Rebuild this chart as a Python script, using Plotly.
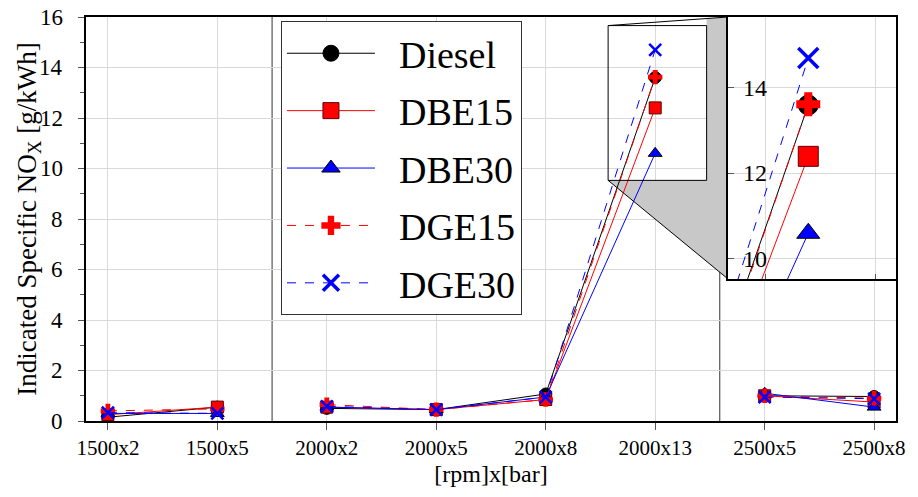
import plotly.graph_objects as go

# ---------------- data ----------------
categories = ["1500x2", "1500x5", "2000x2", "2000x5", "2000x8", "2000x13", "2500x5", "2500x8"]
groups = [[0, 1], [2, 3, 4, 5], [6, 7]]

diesel = [0.15, 0.55, 0.50, 0.45, 1.07, 13.60, 1.00, 0.97]
dbe15 = [0.25, 0.55, 0.55, 0.45, 0.85, 12.40, 1.00, 0.75]
dbe30 = [0.30, 0.30, 0.55, 0.45, 0.95, 10.60, 1.10, 0.55]
dge15 = [0.40, 0.48, 0.65, 0.45, 0.85, 13.62, 1.00, 0.90]
dge30 = [0.33, 0.30, 0.58, 0.45, 0.95, 14.70, 0.95, 0.88]

y_ticks = [0, 2, 4, 6, 8, 10, 12, 14, 16]
inset_y_ticks = [10, 12, 14]

# ---------------- layout constants ----------------
W, H = 918, 497
ML, MR, MT, MB = 86, 22, 17, 76
x_range = [-0.2, 7.2]
y_range = [0, 16]
inset_x_range = [4.57, 5.47]
inset_y_range = [9.53, 15.66]
inset_dom_x = [0.7926, 1.0]
inset_dom_y = [0.3515, 1.0]
separators = [1.5, 5.59]
FONT = "Liberation Serif"
NBSP = "\u00a0"


def segmented(values):
    xs, ys = [], []
    for k, g in enumerate(groups):
        if k:
            xs.append(None)
            ys.append(None)
        for i in g:
            xs.append(i)
            ys.append(values[i])
    return xs, ys


series = [
    ("Diesel", diesel, "black", "solid",
     dict(symbol="circle", color="black", line=dict(color="black", width=1))),
    ("DBE15", dbe15, "red", "solid",
     dict(symbol="square", color="red", line=dict(color="#600000", width=1))),
    ("DBE30", dbe30, "blue", "solid",
     dict(symbol="triangle-up", color="blue", line=dict(color="black", width=1))),
    ("DGE15", dge15, "red", "dash",
     dict(symbol="cross", color="red", line=dict(color="red", width=0))),
    ("DGE30", dge30, "blue", "dash",
     dict(symbol="x-thin", color="blue", line=dict(color="blue", width=2.5))),
]

fig = go.Figure()

for name, vals, col, dash, mk in series:
    xs, ys = segmented(vals)
    m = dict(mk)
    m["size"] = 12
    fig.add_trace(go.Scatter(
        x=xs, y=ys, mode="lines+markers", name=name, showlegend=False,
        line=dict(color=col, width=1, dash=dash), marker=m,
        xaxis="x", yaxis="y", connectgaps=False))

for name, vals, col, dash, mk in series:
    xs, ys = segmented(vals)
    m = dict(mk)
    m["size"] = 20
    if mk["symbol"] == "x-thin":
        m["line"] = dict(color="blue", width=3.5)
    fig.add_trace(go.Scatter(
        x=xs, y=ys, mode="lines+markers", name=NBSP * 2 + name, showlegend=True,
        legendgroup=name,
        line=dict(color=col, width=1, dash=dash), marker=m,
        xaxis="x2", yaxis="y2", connectgaps=False, cliponaxis=True))

# ---------------- zoom indicator shapes ----------------
def to_main_x(p):
    return x_range[0] + p * (x_range[1] - x_range[0])


def to_main_y(p):
    return y_range[0] + p * (y_range[1] - y_range[0])


x0, x1 = inset_x_range
y0, y1 = inset_y_range
bx = to_main_x(inset_dom_x[0])
by_top = to_main_y(inset_dom_y[1])
by_bot = to_main_y(inset_dom_y[0])
t = (x1 - x0) / (bx - x0)
ya = y1 + t * (by_top - y1)

shapes = []
shapes.append(dict(
    type="path", xref="x", yref="y", layer="between",
    path=f"M{x1},{ya} L{bx},{by_top} L{bx},{by_bot} L{x0},{y0} L{x1},{y0} Z",
    fillcolor="#c8c8c8", line=dict(width=0)))
shapes.append(dict(type="line", xref="x", yref="y", x0=x0, y0=y1, x1=bx, y1=by_top,
                   line=dict(color="black", width=1), layer="above"))
shapes.append(dict(type="line", xref="x", yref="y", x0=x0, y0=y0, x1=bx, y1=by_bot,
                   line=dict(color="black", width=1), layer="above"))
shapes.append(dict(type="rect", xref="x", yref="y", x0=x0, y0=y0, x1=x1, y1=y1,
                   line=dict(color="black", width=1), layer="above"))
for s in separators:
    shapes.append(dict(type="line", xref="x", yref="paper", x0=s, x1=s, y0=0, y1=1,
                       line=dict(color="#333333", width=1), layer="between"))

# y tick labels (placed a little away from the axis, as in the reference)
annotations = []
for v in y_ticks:
    annotations.append(dict(
        text=str(v), xref="paper", x=0, xanchor="right", xshift=-21,
        yref="y", y=v, yanchor="middle", showarrow=False,
        font=dict(family=FONT, size=23, color="black")))
for v in inset_y_ticks:
    annotations.append(dict(
        text=str(v), xref="x2 domain", x=0, xanchor="left", xshift=13,
        yref="y2", y=v, yanchor="middle", showarrow=False,
        font=dict(family=FONT, size=24, color="black")))

grid_col = "#d9d9d9"

fig.update_layout(
    width=W, height=H,
    margin=dict(l=ML, r=MR, t=MT, b=MB, pad=0),
    paper_bgcolor="white", plot_bgcolor="white",
    font=dict(family=FONT, size=21, color="black"),
    showlegend=True,
    legend=dict(
        x=0.2407, y=0.99, xanchor="left", yanchor="top",
        bgcolor="white", bordercolor="#333333", borderwidth=1,
        font=dict(family=FONT, size=38, color="black"),
        itemwidth=88, tracegroupgap=5, itemsizing="trace",
        traceorder="grouped"),
    shapes=shapes,
    annotations=annotations,
    xaxis=dict(
        range=x_range, tickmode="array", tickvals=list(range(len(categories))),
        ticktext=categories, ticks="outside", ticklen=7, tickcolor="#555555",
        tickfont=dict(family=FONT, size=21),
        showgrid=True, gridcolor=grid_col, gridwidth=1,
        showline=True, linecolor="black", linewidth=1.5, mirror=True,
        zeroline=False,
        title=dict(text="[rpm]x[bar]", font=dict(family=FONT, size=24), standoff=6),
    ),
    yaxis=dict(
        range=y_range, tickmode="array", tickvals=y_ticks, showticklabels=False,
        ticks="outside", ticklen=6, tickcolor="#555555",
        minor=dict(dtick=1, ticks="outside", ticklen=4, tickcolor="#555555", showgrid=False),
        showgrid=True, gridcolor=grid_col, gridwidth=1,
        showline=True, linecolor="black", linewidth=1.5, mirror=True,
        zeroline=False,
        title=dict(text="Indicated Specific NO<sub>X</sub> [g/kWh]",
                   font=dict(family=FONT, size=27), standoff=34),
    ),
    xaxis2=dict(
        domain=inset_dom_x, anchor="y2", range=inset_x_range,
        tickmode="array", tickvals=[4.77, 5.36], showticklabels=False,
        ticks="inside", ticklen=5, tickcolor="#555555",
        showgrid=True, gridcolor=grid_col,
        showline=True, linecolor="black", linewidth=1.5, mirror=True, zeroline=False,
    ),
    yaxis2=dict(
        domain=inset_dom_y, anchor="x2", range=inset_y_range,
        tickmode="array", tickvals=inset_y_ticks, showticklabels=False,
        ticks="inside", ticklen=6, tickcolor="#555555",
        showgrid=True, gridcolor=grid_col,
        showline=True, linecolor="black", linewidth=1.5, mirror=True, zeroline=False,
    ),
)

fig.write_html("out.html")
